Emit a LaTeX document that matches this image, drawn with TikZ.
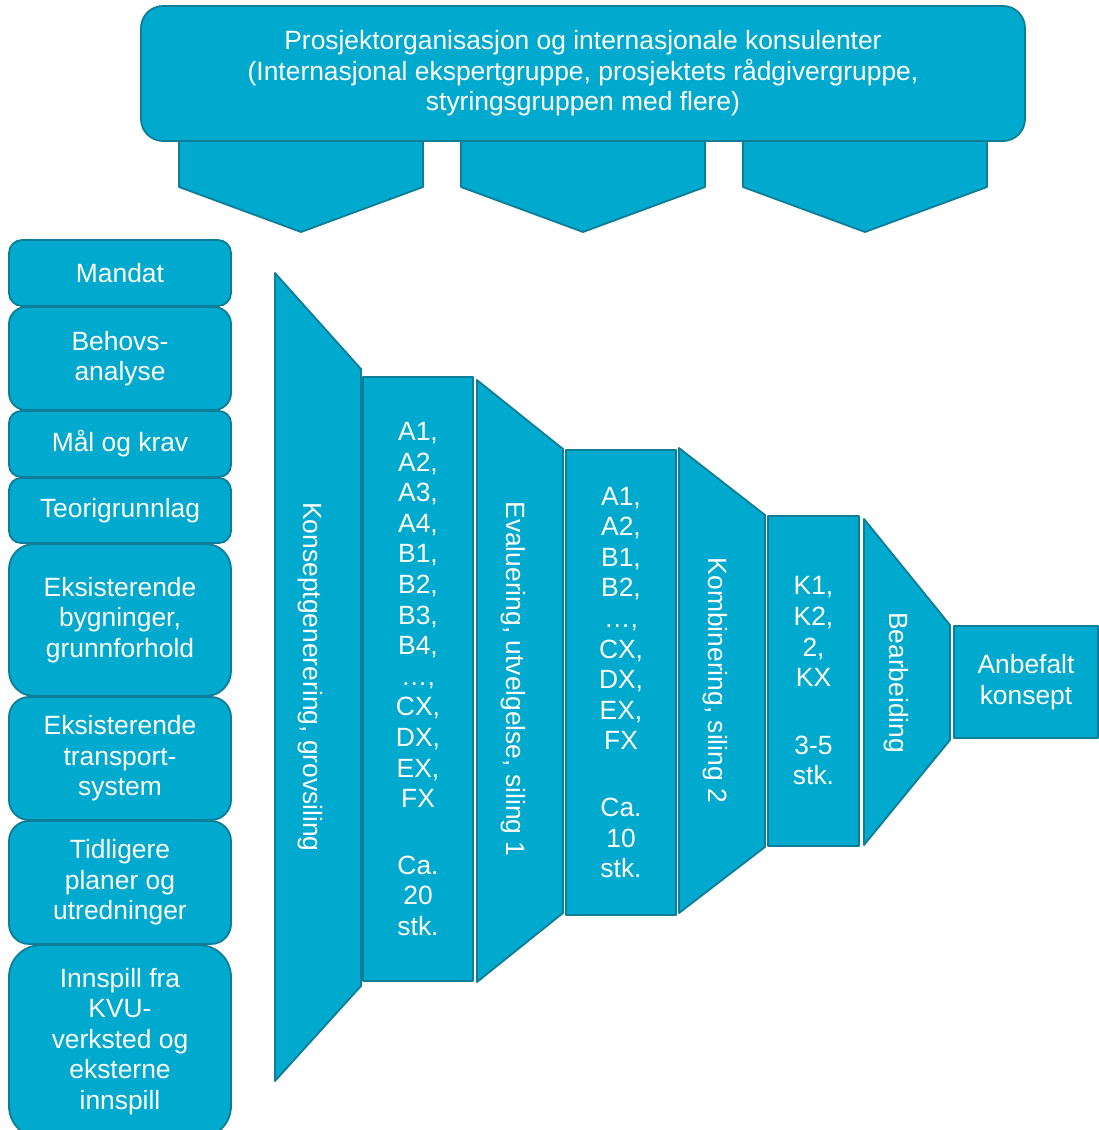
\documentclass[tikz,border=0pt]{standalone}
\usepackage{fontspec}
\setmainfont{Liberation Sans}
\definecolor{boxfill}{HTML}{00A9CE}
\definecolor{boxline}{HTML}{0E7E98}

\begin{document}
\begin{tikzpicture}[x=1pt,y=-1pt,
        tealshape/.style={fill=boxfill,draw=boxline,line width=1.8pt,line join=round},
        txt/.style={text=white,font=\fontsize{26.4}{30.6}\selectfont,align=center,inner sep=0pt},
        sidebox/.style={tealshape,txt,minimum width=222pt},
        listbox/.style={tealshape,txt}]
        \clip (0,0) rectangle (1099,1130);

        % arrows under the organisation box
        \draw [tealshape] (179,130) -- (179,187) -- (301,232) -- (423,187) -- (423,130) -- cycle;
        \draw [tealshape] (461,130) -- (461,187) -- (583,232) -- (705,187) -- (705,130) -- cycle;
        \draw [tealshape] (743,130) -- (743,187) -- (865,232) -- (987,187) -- (987,130) -- cycle;

        \draw (583,73.5) node (org) [tealshape,txt,minimum width=884pt,minimum height=135pt,rounded corners=22pt]
            {Prosjektorganisasjon og internasjonale konsulenter\\(Internasjonal ekspertgruppe, prosjektets rådgivergruppe,\\styringsgruppen med flere)};

        % input column
        \draw (120,273) node (mandat) [sidebox,minimum height=66pt,rounded corners=13pt] {Mandat};
        \draw (120,358.5) node (behov) [sidebox,minimum height=103pt,rounded corners=17pt] {Behovs-\\analyse};
        \draw (120,444) node (maal) [sidebox,minimum height=66pt,rounded corners=12pt] {Mål og krav};
        \draw (120,510.5) node (teori) [sidebox,minimum height=65pt,rounded corners=12pt] {Teorigrunnlag};
        \draw (120,620) node (bygninger) [sidebox,minimum height=152pt,rounded corners=25pt] {Eksisterende\\bygninger,\\grunnforhold};
        \draw (120,758.5) node (transport) [sidebox,minimum height=123pt,rounded corners=20pt] {Eksisterende\\transport-\\system};
        \draw (120,882.5) node (planer) [sidebox,minimum height=123pt,rounded corners=20pt] {Tidligere\\planer og\\utredninger};
        \draw (120,1041.5) node (innspill) [sidebox,minimum height=193pt,rounded corners=32pt] {Innspill fra\\KVU-\\verksted og\\eksterne\\innspill};

        % funnel steps
        \draw [tealshape] (275,273) -- (361,369) -- (361,986) -- (275,1081) -- cycle;
        \draw (310,677) node (grovsiling) [txt,rotate=-90] {Konseptgenerering, grovsiling};
        \draw (418,679) node (liste1) [listbox,minimum width=110pt,minimum height=604pt]
            {A1,\\A2,\\A3,\\A4,\\B1,\\B2,\\B3,\\B4,\\…,\\CX,\\DX,\\EX,\\FX\\[36pt]Ca.\\20\\stk.};

        \draw [tealshape] (477,380) -- (563,449) -- (563,913) -- (477,982) -- cycle;
        \draw (513,679) node (siling1) [txt,rotate=-90] {Evaluering, utvelgelse, siling 1};
        \draw (621,682.5) node (liste2) [listbox,minimum width=110pt,minimum height=465pt]
            {A1,\\A2,\\B1,\\B2,\\…,\\CX,\\DX,\\EX,\\FX\\[36pt]Ca.\\10\\stk.};

        \draw [tealshape] (679,448) -- (765,515) -- (765,847) -- (679,913) -- cycle;
        \draw (715,680.5) node (siling2) [txt,rotate=-90] {Kombinering, siling 2};
        \draw (813.5,681) node (liste3) [listbox,minimum width=91pt,minimum height=330pt]
            {K1,\\K2,\\2,\\KX\\[37pt]3-5\\stk.};

        \draw [tealshape] (864,519) -- (950,625) -- (950,740) -- (864,845) -- cycle;
        \draw (896,682.5) node (bearbeiding) [txt,rotate=-90] {Bearbeiding};
        \draw (1026,682) node (konsept) [listbox,minimum width=144pt,minimum height=112pt] {Anbefalt\\konsept};
    \end{tikzpicture}
\end{document}
